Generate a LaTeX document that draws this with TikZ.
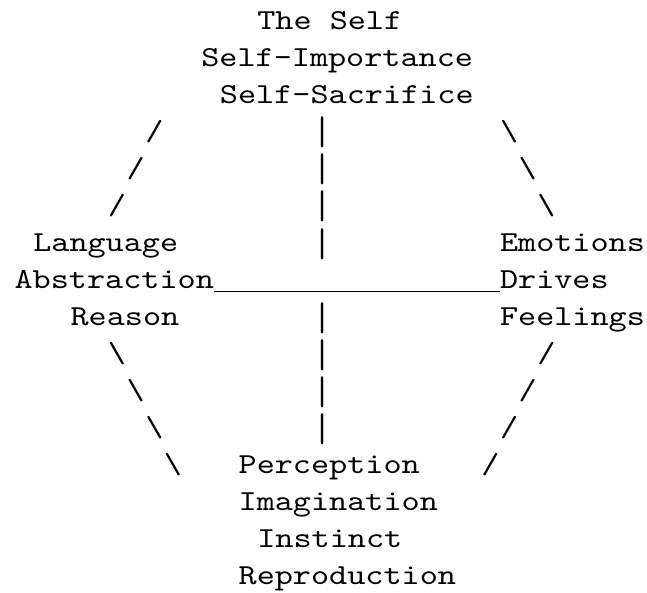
\documentclass[tikz,border=0pt]{standalone}
\usepackage{fontspec}
\newfontfamily\asciifont{lmmono10-regular.otf}[FakeStretch=1.19]
\begin{document}
\begin{tikzpicture}[x=1pt,y=-1pt,
  asc/.style={anchor=base west, inner sep=0pt, outer sep=0pt,
    font=\fontsize{29}{37}\selectfont\asciifont}]
\useasboundingbox (0,0) rectangle (647,592);
\fill[white] (0,0) rectangle (647,592);
\newcommand\ascnode[4]{\node[asc] (#1) at ({14.6+#2*18.67},{29+(#3-1)*37.05}) {#4};}
\newcommand\vbar{\raisebox{-4.7pt}{\scalebox{1}[1.378]{|}}}
\ascnode{self}{13}{1}{The Self}
\ascnode{imp}{10}{2}{Self-Importance}
\ascnode{sac}{11}{3}{Self-Sacrifice}
\ascnode{la}{7}{4}{/}
\ascnode{va}{16}{4}{\vbar}
\ascnode{ra}{26}{4}{\textbackslash}
\ascnode{lb}{6}{5}{/}
\ascnode{vb}{16}{5}{\vbar}
\ascnode{rb}{27}{5}{\textbackslash}
\ascnode{lc}{5}{6}{/}
\ascnode{vc}{16}{6}{\vbar}
\ascnode{rc}{28}{6}{\textbackslash}
\ascnode{lang}{1}{7}{Language}
\ascnode{vd}{16}{7}{\vbar}
\ascnode{emo}{26}{7}{Emotions}
\ascnode{abs}{0}{8}{Abstraction}
\ascnode{drv}{26}{8}{Drives}
\ascnode{rea}{3}{9}{Reason}
\ascnode{ve}{16}{9}{\vbar}
\ascnode{fee}{26}{9}{Feelings}
\ascnode{ld}{5}{10}{\textbackslash}
\ascnode{vf}{16}{10}{\vbar}
\ascnode{rd}{28}{10}{/}
\ascnode{le}{6}{11}{\textbackslash}
\ascnode{vg}{16}{11}{\vbar}
\ascnode{re}{27}{11}{/}
\ascnode{lf}{7}{12}{\textbackslash}
\ascnode{vh}{16}{12}{\vbar}
\ascnode{rf}{26}{12}{/}
\ascnode{lg}{8}{13}{\textbackslash}
\ascnode{per}{12}{13}{Perception}
\ascnode{rg}{25}{13}{/}
\ascnode{ima}{12}{14}{Imagination}
\ascnode{ins}{13}{15}{Instinct}
\ascnode{rep}{12}{16}{Reproduction}
\draw[line width=1.5pt] ([yshift=-3pt]abs.base east) -- ([yshift=-3pt]drv.base west);
\end{tikzpicture}
\end{document}
